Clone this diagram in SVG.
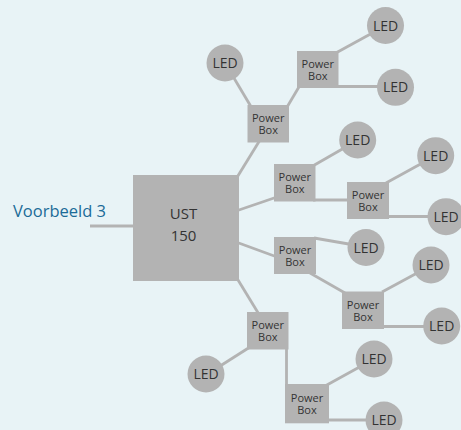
<svg xmlns="http://www.w3.org/2000/svg" width="461" height="430" viewBox="0 0 461 430">
<style>
.bg{fill:#e8f3f6}
.c line{stroke:#b3b3b3;stroke-width:2.8;stroke-linecap:butt}
.led circle{fill:#b3b3b3}
.pb rect,.ust rect{fill:#b3b3b3}
text{font-family:"Open Sans","Noto Sans","DejaVu Sans",sans-serif;fill:#333;text-anchor:middle}
.led text{font-size:14px}
.pb text{font-size:11px}
.ust text{font-size:15px}
.title{font-size:16.5px;fill:#1b6b98;text-anchor:start}
</style>
<rect class="bg" x="0" y="0" width="461" height="430"/>
<text class="title" x="13" y="217">Voorbeeld 3</text>
<g id="connectors" class="c">
<line x1="90" y1="226" x2="136" y2="226"/>
<line x1="236" y1="179" x2="260" y2="140"/>
<line x1="225" y1="63" x2="253" y2="110"/>
<line x1="285" y1="110.5" x2="301" y2="83.5"/>
<line x1="334" y1="54" x2="386" y2="25.5"/>
<line x1="336" y1="86.5" x2="396" y2="86.5"/>
<line x1="236" y1="211" x2="277" y2="197"/>
<line x1="311" y1="167" x2="358" y2="140"/>
<line x1="313" y1="200" x2="349" y2="200"/>
<line x1="386" y1="183" x2="436" y2="155.5"/>
<line x1="387" y1="216.5" x2="446" y2="216.5"/>
<line x1="236" y1="242" x2="277" y2="257"/>
<line x1="314" y1="238" x2="366" y2="247"/>
<line x1="310" y1="273" x2="345" y2="293"/>
<line x1="382" y1="292" x2="431" y2="265.5"/>
<line x1="382" y1="326.5" x2="442" y2="326.5"/>
<line x1="235" y1="275" x2="260" y2="316"/>
<line x1="250" y1="347" x2="206" y2="375"/>
<line x1="286.5" y1="347" x2="286.5" y2="386"/>
<line x1="326" y1="385.5" x2="374" y2="359"/>
<line x1="327" y1="420" x2="384" y2="420"/>
</g>
<g id="ust" class="ust"><rect x="133" y="175" width="106" height="106"/><text x="183.5" y="219">UST</text><text x="183.5" y="241">150</text></g>
<g id="pb1" class="pb"><rect x="247.5" y="105" width="41.5" height="37.5"/><text x="268.2" y="122">Power</text><text x="268.2" y="134">Box</text></g>
<g id="pb2" class="pb"><rect x="297" y="51" width="41.5" height="37"/><text x="317.8" y="68">Power</text><text x="317.8" y="80">Box</text></g>
<g id="pb3" class="pb"><rect x="274" y="164" width="41.5" height="37.5"/><text x="294.8" y="181">Power</text><text x="294.8" y="193">Box</text></g>
<g id="pb4" class="pb"><rect x="347" y="182" width="42" height="37"/><text x="368" y="198.5">Power</text><text x="368" y="210.5">Box</text></g>
<g id="pb5" class="pb"><rect x="274" y="237" width="42" height="37"/><text x="295" y="254">Power</text><text x="295" y="266">Box</text></g>
<g id="pb6" class="pb"><rect x="342" y="291.5" width="42" height="37.5"/><text x="363" y="308.5">Power</text><text x="363" y="320.5">Box</text></g>
<g id="pb7" class="pb"><rect x="247" y="312" width="41.5" height="37.5"/><text x="267.8" y="329">Power</text><text x="267.8" y="341">Box</text></g>
<g id="pb8" class="pb"><rect x="285" y="384" width="44" height="39.3"/><text x="307" y="401.5">Power</text><text x="307" y="414">Box</text></g>
<g id="led1" class="led"><circle cx="225" cy="63" r="18.5"/><text x="225" y="68">LED</text></g>
<g id="led2" class="led"><circle cx="385.5" cy="25.5" r="18.5"/><text x="385.5" y="30.5">LED</text></g>
<g id="led3" class="led"><circle cx="395.5" cy="87.3" r="18.5"/><text x="395.5" y="92.3">LED</text></g>
<g id="led4" class="led"><circle cx="357.7" cy="140" r="18.5"/><text x="357.7" y="145">LED</text></g>
<g id="led5" class="led"><circle cx="435.7" cy="155.7" r="18.5"/><text x="435.7" y="160.7">LED</text></g>
<g id="led6" class="led"><circle cx="446" cy="216.7" r="18.5"/><text x="446" y="221.7">LED</text></g>
<g id="led7" class="led"><circle cx="366" cy="247.5" r="18.5"/><text x="366" y="252.5">LED</text></g>
<g id="led8" class="led"><circle cx="431" cy="265" r="18.5"/><text x="431" y="270">LED</text></g>
<g id="led9" class="led"><circle cx="441.7" cy="326" r="18.5"/><text x="441.7" y="331">LED</text></g>
<g id="led10" class="led"><circle cx="374" cy="359" r="18.5"/><text x="374" y="364">LED</text></g>
<g id="led11" class="led"><circle cx="384" cy="420" r="18.5"/><text x="384" y="425">LED</text></g>
<g id="led12" class="led"><circle cx="206" cy="374" r="18.5"/><text x="206" y="379">LED</text></g>
</svg>
